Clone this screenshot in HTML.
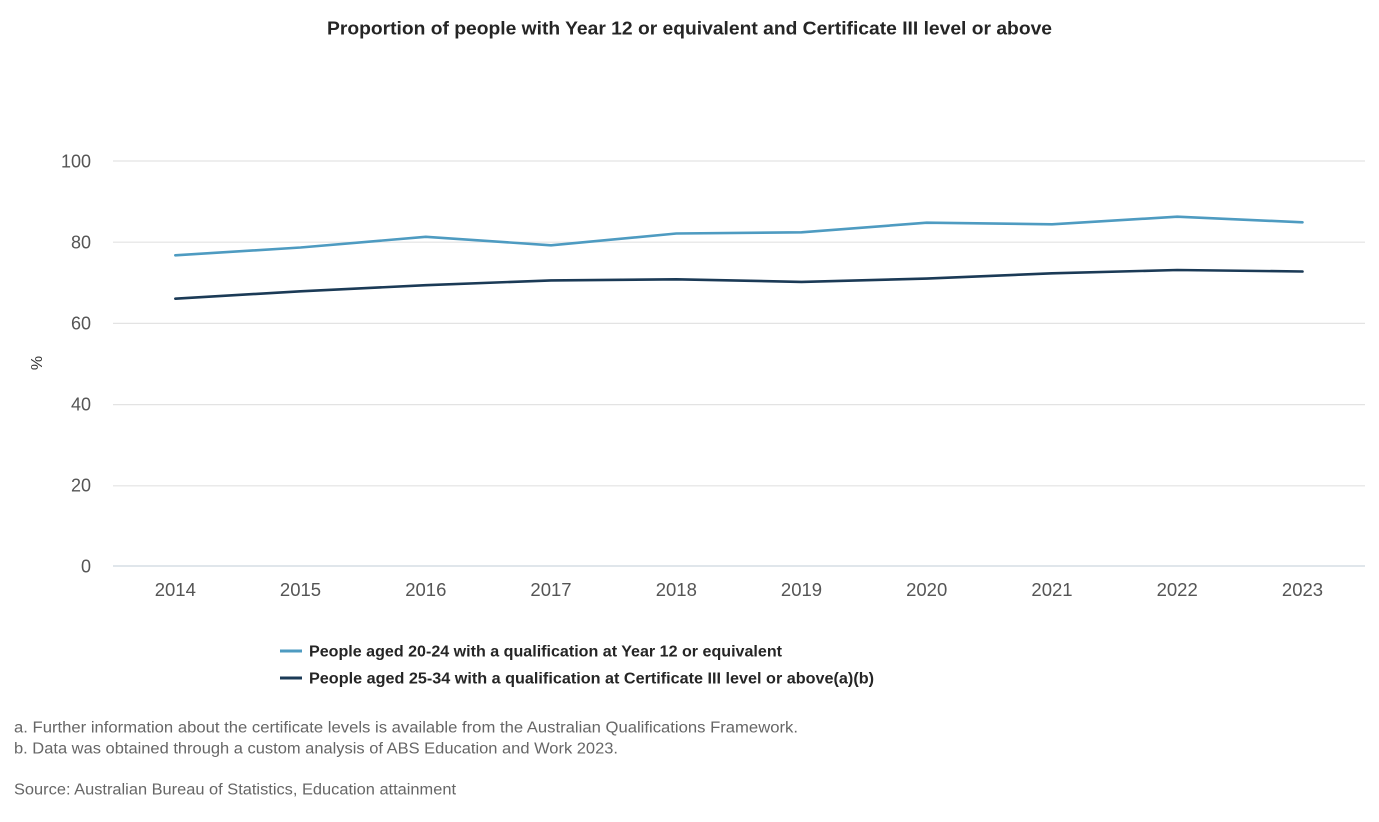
<!DOCTYPE html>
<html>
<head>
<meta charset="utf-8">
<style>
  html, body { margin: 0; padding: 0; background: #ffffff; }
  svg { display: block; }
  text { font-family: "Liberation Sans", "DejaVu Sans", sans-serif; }
</style>
</head>
<body>
<svg width="1379" height="822" viewBox="0 0 1379 822" xmlns="http://www.w3.org/2000/svg">
  <rect x="0" y="0" width="1379" height="822" fill="#ffffff"/>

  <!-- Title -->
  <text x="327" y="34.5" font-size="18" font-weight="bold" fill="#252525" textLength="725" lengthAdjust="spacingAndGlyphs">Proportion of people with Year 12 or equivalent and Certificate III level or above</text>

  <!-- Gridlines -->
  <g stroke="#e3e3e3" stroke-width="1.2">
    <line x1="113" y1="161" x2="1365" y2="161"/>
    <line x1="113" y1="242.2" x2="1365" y2="242.2"/>
    <line x1="113" y1="323.4" x2="1365" y2="323.4"/>
    <line x1="113" y1="404.6" x2="1365" y2="404.6"/>
    <line x1="113" y1="485.8" x2="1365" y2="485.8"/>
  </g>
  <line x1="113" y1="566" x2="1365" y2="566" stroke="#cdd8df" stroke-width="1.3"/>

  <!-- Y tick labels -->
  <g font-size="18" fill="#555555" text-anchor="end">
    <text x="91" y="167.5">100</text>
    <text x="91" y="248.5">80</text>
    <text x="91" y="329.5">60</text>
    <text x="91" y="410.5">40</text>
    <text x="91" y="491.5">20</text>
    <text x="91" y="572.5">0</text>
  </g>

  <!-- Y axis title -->
  <text x="0" y="0" font-size="16" fill="#333333" text-anchor="middle" transform="translate(42,363) rotate(-90)">%</text>

  <!-- X tick labels -->
  <g font-size="18.5" fill="#555555" text-anchor="middle">
    <text x="175.3" y="596">2014</text>
    <text x="300.5" y="596">2015</text>
    <text x="425.8" y="596">2016</text>
    <text x="551" y="596">2017</text>
    <text x="676.3" y="596">2018</text>
    <text x="801.5" y="596">2019</text>
    <text x="926.7" y="596">2020</text>
    <text x="1052" y="596">2021</text>
    <text x="1177.2" y="596">2022</text>
    <text x="1302.5" y="596">2023</text>
  </g>

  <!-- Series: Year 12 (light blue) -->
  <polyline fill="none" stroke="#4e9bc1" stroke-width="2.6" stroke-linejoin="round" stroke-linecap="round"
    points="175.3,255.3 300.5,247.5 425.8,236.8 551,245.3 676.3,233.5 801.5,232.3 926.7,222.7 1052,224.3 1177.2,216.7 1302.5,222.3"/>

  <!-- Series: Cert III (dark navy) -->
  <polyline fill="none" stroke="#1b3a56" stroke-width="2.6" stroke-linejoin="round" stroke-linecap="round"
    points="175.3,298.7 300.5,291.3 425.8,285.2 551,280.4 676.3,279.3 801.5,281.9 926.7,278.6 1052,273.3 1177.2,270 1302.5,271.5"/>

  <!-- Legend -->
  <line x1="280" y1="651" x2="302" y2="651" stroke="#4e9bc1" stroke-width="3"/>
  <text x="309" y="656.5" font-size="15.5" font-weight="bold" fill="#252525" textLength="473" lengthAdjust="spacingAndGlyphs">People aged 20-24 with a qualification at Year 12 or equivalent</text>
  <line x1="280" y1="678" x2="302" y2="678" stroke="#1b3a56" stroke-width="3"/>
  <text x="309" y="683.5" font-size="15.5" font-weight="bold" fill="#252525" textLength="565" lengthAdjust="spacingAndGlyphs">People aged 25-34 with a qualification at Certificate III level or above(a)(b)</text>

  <!-- Footnotes -->
  <g font-size="15.5" fill="#666666">
    <text x="14" y="732.5" textLength="784" lengthAdjust="spacingAndGlyphs">a. Further information about the certificate levels is available from the Australian Qualifications Framework.</text>
    <text x="14" y="753.5" textLength="604" lengthAdjust="spacingAndGlyphs">b. Data was obtained through a custom analysis of ABS Education and Work 2023.</text>
    <text x="14" y="794.5" textLength="442" lengthAdjust="spacingAndGlyphs">Source: Australian Bureau of Statistics, Education attainment</text>
  </g>
</svg>
</body>
</html>
